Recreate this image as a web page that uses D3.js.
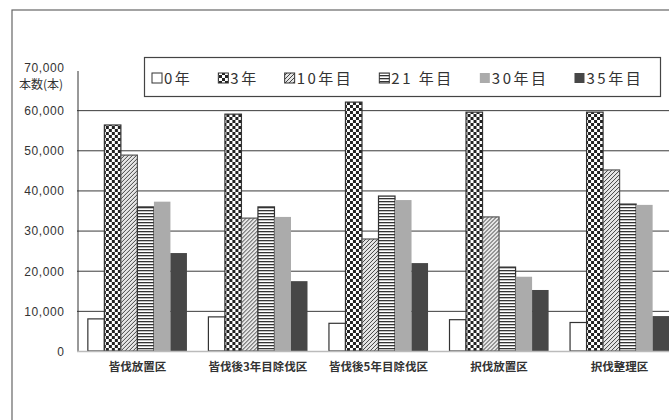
<!DOCTYPE html>
<html>
<head>
<meta charset="utf-8">
<script src="https://cdn.jsdelivr.net/npm/d3@7"></script>
<style>
  body { margin: 0; background: #fff; }
  text { font-family: "Liberation Sans", Arial, sans-serif; fill: #333; }
  .jp { font-family: "Noto Sans CJK JP", sans-serif; }
</style>
</head>
<body>
<div id="chart"></div>
<script>
// data
var categories = ["皆伐放置区", "皆伐後3年目除伐区", "皆伐後5年目除伐区", "択伐放置区", "択伐整理区"];
var seriesNames = ["0年", "3年", "10年目", "21 年目", "30年目", "35年目"];
var year0  = [8000, 8500, 6900, 7800, 7100];
var year3  = [56300, 59000, 62000, 59500, 59500];
var year10 = [48800, 33100, 27900, 33400, 45100];
var year21 = [35900, 35900, 38600, 20900, 36600];
var year30 = [37200, 33400, 37600, 18500, 36400];
var year35 = [24400, 17400, 21900, 15200, 8700];
var yTicks = [0, 10000, 20000, 30000, 40000, 50000, 60000, 70000];

var allSeries = [year0, year3, year10, year21, year30, year35];

var svgWidth = 669, svgHeight = 420;

var svg = d3.select("#chart").append("svg")
  .attr("width", svgWidth)
  .attr("height", svgHeight);

// patterns for the black & white fills
var defs = svg.append("defs");

var checker = defs.append("pattern").attr("id", "checker")
  .attr("patternUnits", "userSpaceOnUse").attr("width", 6).attr("height", 6);
checker.append("rect").attr("width", 6).attr("height", 6).attr("fill", "#fff");
checker.append("rect").attr("width", 3).attr("height", 3).attr("fill", "#222");
checker.append("rect").attr("x", 3).attr("y", 3).attr("width", 3).attr("height", 3).attr("fill", "#222");

var hatch = defs.append("pattern").attr("id", "hatch")
  .attr("patternUnits", "userSpaceOnUse").attr("width", 4).attr("height", 4);
hatch.append("rect").attr("width", 4).attr("height", 4).attr("fill", "#e6e6e6");
hatch.append("path").attr("d", "M-1,1 l2,-2 M0,4 l4,-4 M3,5 l2,-2")
  .attr("stroke", "#444").attr("stroke-width", 1);

var hlines = defs.append("pattern").attr("id", "hlines")
  .attr("patternUnits", "userSpaceOnUse").attr("width", 4).attr("height", 3);
hlines.append("rect").attr("width", 4).attr("height", 3).attr("fill", "#fff");
hlines.append("rect").attr("width", 4).attr("height", 1.3).attr("fill", "#333");

var fills = ["#fff", "url(#checker)", "url(#hatch)", "url(#hlines)", "#ababab", "#474747"];
var strokes = ["#333", "#333", "#555", "#333", "none", "none"];

// outer frame
svg.append("rect")
  .attr("x", 12).attr("y", 10)
  .attr("width", 700).attr("height", 420)
  .attr("fill", "none").attr("stroke", "#666").attr("stroke-width", 1.2);

var x0 = 77, yTop = 70, yBottom = 351;

var x = d3.scaleBand()
  .domain(categories)
  .range([x0, 680])
  .paddingInner(0.178)
  .paddingOuter(0.09);

var xInner = d3.scaleBand()
  .domain(d3.range(seriesNames.length))
  .range([0, x.bandwidth()]);

var y = d3.scaleLinear()
  .domain([0, 70000])
  .range([yBottom, yTop]);

// gridlines
svg.append("g").selectAll("line")
  .data(yTicks.filter(d => d > 0 && d < 70000))
  .enter().append("line")
  .attr("x1", x0).attr("x2", svgWidth)
  .attr("y1", d => y(d) + 0.5).attr("y2", d => y(d) + 0.5)
  .attr("stroke", "#3a3a3a").attr("stroke-width", 1);

// y axis
var leftAxis = d3.axisLeft(y)
  .tickValues(yTicks)
  .tickSize(0)
  .tickPadding(13)
  .tickFormat(d3.format(","));

var yAxis = svg.append("g")
  .attr("transform", `translate(${x0 + 0.5}, 0.5)`)
  .call(leftAxis);
yAxis.select(".domain").attr("stroke", "#333");
yAxis.selectAll("text")
  .attr("font-size", 12)
  .attr("letter-spacing", "0.6px")
  .attr("fill", d => d === 70000 ? "#888" : "#333")
  .attr("dy", d => d === 70000 ? "0.05em" : "0.32em")
  .style("font-family", "'Liberation Sans', Arial, sans-serif");

svg.append("text")
  .attr("class", "jp")
  .attr("x", 19).attr("y", 89)
  .attr("font-size", 12)
  .text("本数(本)");

// bars
var groups = svg.append("g").selectAll("g")
  .data(categories)
  .enter().append("g")
  .attr("transform", d => `translate(${x(d)}, 0)`);

groups.selectAll("rect")
  .data((d, i) => allSeries.map((s, j) => ({ s: j, v: s[i] })))
  .enter().append("rect")
  .attr("x", d => xInner(d.s))
  .attr("y", d => y(d.v))
  .attr("width", xInner.bandwidth())
  .attr("height", d => y(0) - y(d.v))
  .attr("fill", d => fills[d.s])
  .attr("stroke", d => strokes[d.s])
  .attr("stroke-width", 1.2);

// baseline
svg.append("line")
  .attr("x1", x0).attr("x2", svgWidth)
  .attr("y1", yBottom + 0.5).attr("y2", yBottom + 0.5)
  .attr("stroke", "#bbb").attr("stroke-width", 1.5);

// category labels
svg.append("g").selectAll("text")
  .data(categories)
  .enter().append("text")
  .attr("class", "jp")
  .attr("x", d => x(d) + x.bandwidth() / 2)
  .attr("y", 371)
  .attr("text-anchor", "middle")
  .attr("font-size", 11.5)
  .attr("font-weight", "bold")
  .attr("fill", "#444")
  .text(d => d);

// legend
var legend = svg.append("g");
legend.append("rect")
  .attr("x", 144.5).attr("y", 57.5)
  .attr("width", 516).attr("height", 39)
  .attr("fill", "#fff").attr("stroke", "#444").attr("stroke-width", 1.2);

var lx = 152;
seriesNames.forEach(function(name, i) {
  legend.append("rect")
    .attr("x", lx).attr("y", 73)
    .attr("width", 10).attr("height", 10)
    .attr("fill", fills[i])
    .attr("stroke", strokes[i] === "none" ? "none" : "#333")
    .attr("stroke-width", 1);
  var t = legend.append("text")
    .attr("class", "jp")
    .attr("x", lx + 12).attr("y", 84)
    .attr("font-size", 15)
    .attr("letter-spacing", "2.5px")
    .attr("fill", "#333")
    .text(name);
  lx += 12 + t.node().getComputedTextLength() + 26;
});
</script>
</body>
</html>
